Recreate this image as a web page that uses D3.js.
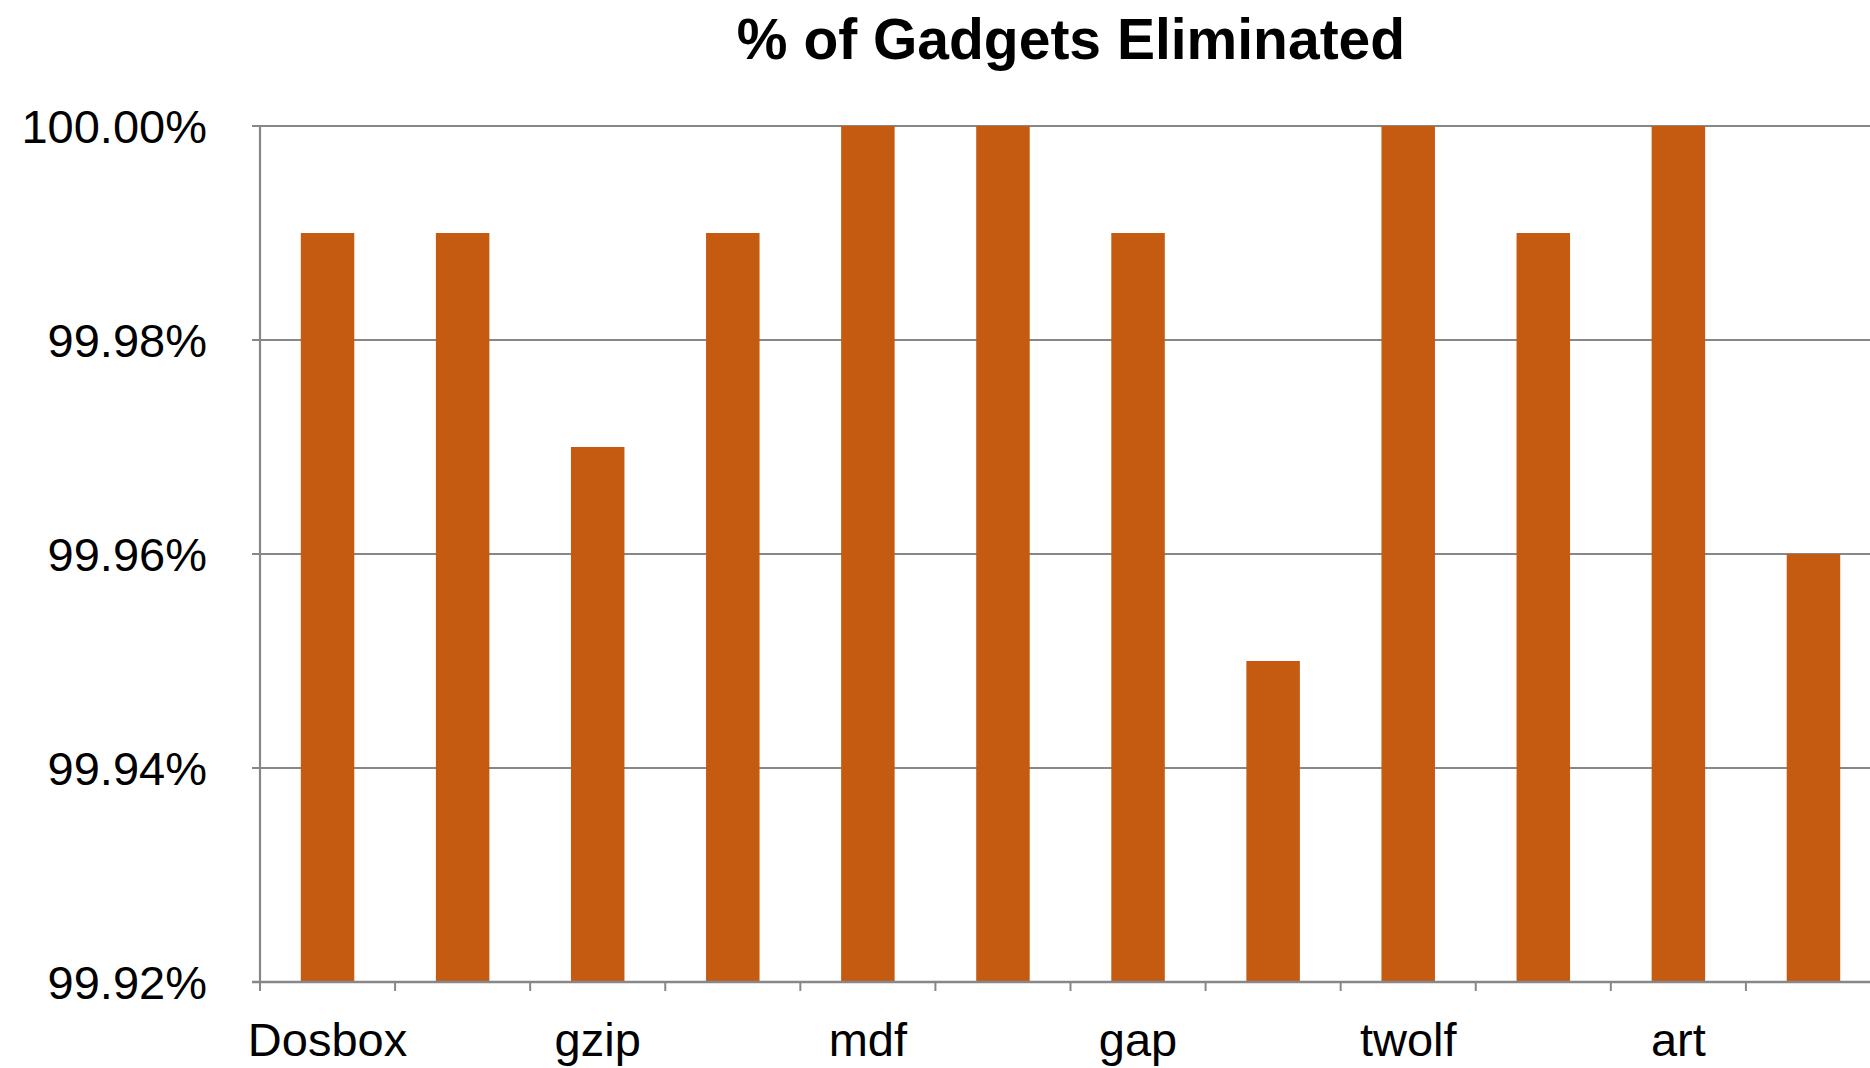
<!DOCTYPE html>
<html>
<head>
<meta charset="utf-8">
<script src="https://cdn.jsdelivr.net/npm/d3@7/dist/d3.min.js"></script>
<style>
  html, body { margin: 0; padding: 0; background: #fff; }
  svg { display: block; font-family: "Liberation Sans", Arial, sans-serif; }
</style>
</head>
<body>
<svg id="chart" width="1870" height="1068"></svg>
<script>
// Share of gadgets eliminated per benchmark (percent)
const values = [99.99, 99.99, 99.97, 99.99, 100.00, 100.00, 99.99, 99.95, 100.00, 99.99, 100.00, 99.96];
// Category axis shows every other benchmark name
const tickLabels = ["Dosbox", "", "gzip", "", "mdf", "", "gap", "", "twolf", "", "art", ""];
const yTicks = [99.92, 99.94, 99.96, 99.98, 100.00];
const title = "% of Gadgets Eliminated";

const svg = d3.select("#chart");
const plotLeft = 260, plotRight = 1881, plotTop = 126, plotBottom = 982;
const gridColor = "#878787";

const x = d3.scaleBand()
  .domain(d3.range(values.length))
  .range([plotLeft, plotRight])
  .paddingInner(0.604)
  .paddingOuter(0.302);

const y = d3.scaleLinear()
  .domain([99.92, 100.00])
  .range([plotBottom, plotTop]);

// Horizontal gridlines with short ticks to the left of the axis
svg.append("g")
  .selectAll("line")
  .data(yTicks)
  .join("line")
  .attr("x1", plotLeft - 8)
  .attr("x2", plotRight)
  .attr("y1", d => y(d))
  .attr("y2", d => y(d))
  .attr("stroke", gridColor)
  .attr("stroke-width", 2.2);

// Y tick labels
svg.append("g")
  .selectAll("text")
  .data(yTicks)
  .join("text")
  .attr("x", 207)
  .attr("y", d => y(d))
  .attr("dy", "0.36em")
  .attr("text-anchor", "end")
  .attr("font-size", 47)
  .attr("fill", "#000")
  .text(d => d3.format(".2f")(d) + "%");

// Bars
svg.append("g")
  .selectAll("rect")
  .data(values)
  .join("rect")
  .attr("x", (d, i) => x(i))
  .attr("width", x.bandwidth())
  .attr("y", d => y(d))
  .attr("height", d => y(99.92) - y(d))
  .attr("fill", "#c55a11");

// Vertical axis line
svg.append("line")
  .attr("x1", plotLeft).attr("x2", plotLeft)
  .attr("y1", plotTop).attr("y2", plotBottom)
  .attr("stroke", gridColor)
  .attr("stroke-width", 2.2);

// Category axis line and boundary ticks
svg.append("line")
  .attr("x1", plotLeft - 8).attr("x2", plotRight)
  .attr("y1", plotBottom).attr("y2", plotBottom)
  .attr("stroke", gridColor)
  .attr("stroke-width", 2.5);

const step = x.step();
const boundaries = d3.range(values.length + 1).map(i => plotLeft + i * step);
svg.append("g")
  .selectAll("line")
  .data(boundaries)
  .join("line")
  .attr("x1", d => d).attr("x2", d => d)
  .attr("y1", plotBottom).attr("y2", plotBottom + 9)
  .attr("stroke", gridColor)
  .attr("stroke-width", 2);

// Category labels
svg.append("g")
  .selectAll("text")
  .data(tickLabels)
  .join("text")
  .attr("x", (d, i) => x(i) + x.bandwidth() / 2)
  .attr("y", 1056)
  .attr("text-anchor", "middle")
  .attr("font-size", 47)
  .attr("fill", "#000")
  .text(d => d);

// Title
svg.append("text")
  .attr("x", 1071)
  .attr("y", 59)
  .attr("text-anchor", "middle")
  .attr("font-size", 57)
  .attr("font-weight", "bold")
  .attr("fill", "#000")
  .text(title);
</script>
</body>
</html>
